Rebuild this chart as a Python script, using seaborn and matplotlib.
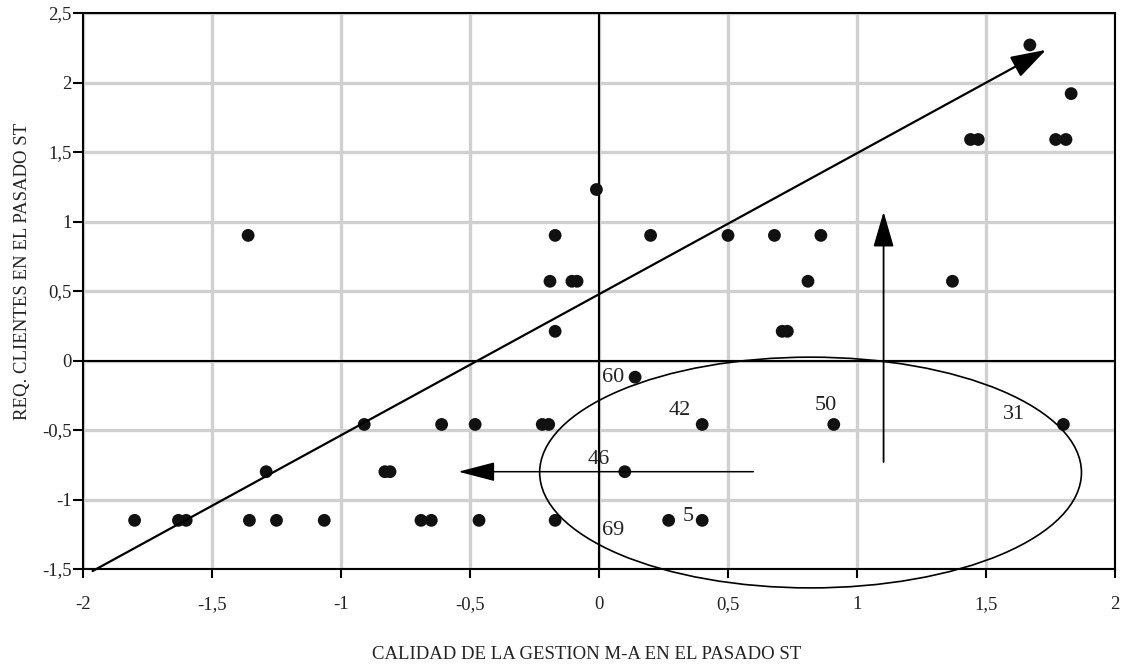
import matplotlib
matplotlib.use("Agg")
import matplotlib.pyplot as plt
from matplotlib.patches import Ellipse
import seaborn as sns
import pandas as pd

# ---- data ----
x_vals = [-1.36, -0.01, -0.17, 0.20, 0.50, 0.68, 0.86,
          -0.19, -0.105, -0.085, 0.81, 1.37,
          1.44, 1.47, 1.77, 1.81, 1.83, 1.67,
          -0.17, 0.71, 0.73,
          0.14,
          -0.91, -0.61, -0.48, -0.22, -0.195, 0.40, 0.91, 1.80,
          -1.29, -0.83, -0.81, 0.10,
          -1.80, -1.63, -1.60, -1.355, -1.25, -1.065, -0.69, -0.65, -0.465, -0.17, 0.27, 0.40]
y_vals = [0.90, 1.23, 0.90, 0.90, 0.90, 0.90, 0.90,
          0.57, 0.57, 0.57, 0.57, 0.57,
          1.59, 1.59, 1.59, 1.59, 1.92, 2.27,
          0.21, 0.21, 0.21,
          -0.12,
          -0.46, -0.46, -0.46, -0.46, -0.46, -0.46, -0.46, -0.46,
          -0.80, -0.80, -0.80, -0.80,
          -1.15, -1.15, -1.15, -1.15, -1.15, -1.15, -1.15, -1.15, -1.15, -1.15, -1.15, -1.15]

label_text = ["60", "42", "46", "69", "5", "50", "31"]
label_x = [0.056, 0.314, 0.0, 0.056, 0.346, 0.88, 1.608]
label_y = [-0.125, -0.36, -0.714, -1.22, -1.12, -0.324, -0.39]

x_ticks = [-2, -1.5, -1, -0.5, 0, 0.5, 1, 1.5, 2]
x_tick_labels = ["-2", "-1,5", "-1", "-0,5", "0", "0,5", "1", "1,5", "2"]
y_ticks = [-1.5, -1, -0.5, 0, 0.5, 1, 1.5, 2, 2.5]
y_tick_labels = ["-1,5", "-1", "-0,5", "0", "0,5", "1", "1,5", "2", "2,5"]

x_title = "CALIDAD DE LA GESTION M-A EN EL PASADO ST"
y_title = "REQ. CLIENTES EN EL PASADO ST"

# arrows (start -> tip) and ellipse
trend_start = (-1.963, -1.515)
trend_tip = (1.733, 2.235)
h_start = (0.598, -0.80)
h_tip = (-0.545, -0.80)
v_start = (1.103, -0.73)
v_tip = (1.103, 1.07)
ell_center = (0.82, -0.806)
ell_width = 2.10
ell_height = 1.66

# ---- style ----
sns.set_theme(style="white")
plt.rcParams["font.family"] = ["Liberation Serif", "DejaVu Serif"]

fig = plt.figure(figsize=(11.24, 6.66), dpi=100)
ax = fig.add_axes([83 / 1124, 1 - 569 / 666, (1115 - 83) / 1124, (569 - 13) / 666])

df = pd.DataFrame({"x": x_vals, "y": y_vals})

ax.set_xlim(-2, 2)
ax.set_ylim(-1.5, 2.5)
ax.set_xticks(x_ticks)
ax.set_xticklabels(x_tick_labels)
ax.set_yticks(y_ticks)
ax.set_yticklabels(y_tick_labels)
ax.grid(True, color="#d0d0d0", lw=2.4)
ax.set_axisbelow(True)

ax.axhline(0, color="black", lw=1.5, zorder=2)
ax.axvline(0, color="black", lw=1.5, zorder=2)

sns.scatterplot(data=df, x="x", y="y", ax=ax, color="#111111", s=85,
                edgecolor="none", zorder=4, legend=False)

# trend arrow
ax.annotate("", xy=trend_tip, xytext=trend_start,
            arrowprops=dict(arrowstyle="-|>,head_length=1.1,head_width=0.35",
                            mutation_scale=20, color="black", lw=1.6,
                            shrinkA=0, shrinkB=0), zorder=5)
ax.annotate("", xy=h_tip, xytext=h_start,
            arrowprops=dict(arrowstyle="-|>,head_length=1.15,head_width=0.3",
                            mutation_scale=20, color="black", lw=1.1,
                            shrinkA=0, shrinkB=0), zorder=5)
ax.annotate("", xy=v_tip, xytext=v_start,
            arrowprops=dict(arrowstyle="-|>,head_length=1.1,head_width=0.32",
                            mutation_scale=20, color="black", lw=1.3,
                            shrinkA=0, shrinkB=0), zorder=5)

ell = Ellipse(ell_center, ell_width, ell_height, fill=False, edgecolor="black",
              lw=1.2, clip_on=False, zorder=5)
ax.add_patch(ell)

for t, lx, ly in zip(label_text, label_x, label_y):
    ax.text(lx, ly, t, fontsize=16, ha="center", va="center", color="#222222", zorder=6)

for s in ax.spines.values():
    s.set_color("black")
    s.set_linewidth(1.5)
    s.set_visible(True)

ax.tick_params(axis="x", direction="out", length=6.5, width=1.5, color="black",
               labelsize=13.5, pad=13, labelcolor="#222222", bottom=True)
ax.tick_params(axis="y", direction="out", length=7, width=1.5, color="black",
               labelsize=13.5, pad=1, labelcolor="#222222", left=True)

ax.set_xlabel(x_title, fontsize=13.5, color="#222222")
ax.set_ylabel(y_title, fontsize=13.5, color="#222222")
ax.xaxis.set_label_coords(0.488, -0.138)
ax.yaxis.set_label_coords(-0.05, 0.536)

fig.savefig("out.png", dpi=100)
